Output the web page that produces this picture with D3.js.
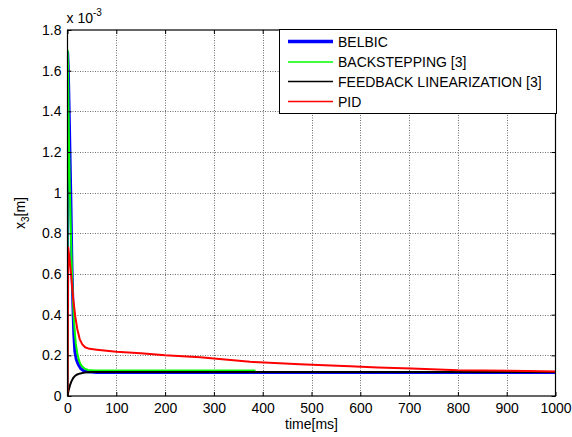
<!DOCTYPE html>
<html>
<head>
<meta charset="utf-8">
<script src="https://cdn.jsdelivr.net/npm/d3@7"></script>
<style>
  body { margin: 0; background: #fff; }
  text { font-family: Arial, "Liberation Sans", sans-serif; fill: #000; }
</style>
</head>
<body>
<svg id="chart" width="572" height="437"></svg>
<script>
// Response of x3 (in units of 1e-3 m) versus time in ms, per controller
const seriesNames = ["BELBIC", "BACKSTEPPING [3]", "FEEDBACK LINEARIZATION [3]", "PID"];
const seriesColors = ["#0000ff", "#00ff00", "#000000", "#ff0000"];

const belbic = [[0,0],[0.3,1.69],[1.5,1.62],[3,1.45],[5,1.2],[7,0.95],[9,0.65],[11,0.45],[13,0.3],[15,0.22],[18,0.18],[22,0.155],[27,0.135],[33,0.124],[42,0.119],[60,0.116],[1000,0.116]];
const backstepping = [[0,0],[0.3,1.7],[1,1.62],[2,1.42],[3,1.25],[5,1.0],[7,0.8],[9,0.62],[11,0.48],[13,0.38],[15,0.31],[17,0.26],[20,0.21],[23,0.18],[26,0.16],[30,0.145],[35,0.135],[42,0.128],[55,0.125],[385,0.125]];
const feedbackLin = [[0,0],[2,0.025],[5,0.052],[8,0.072],[12,0.09],[16,0.1],[20,0.106],[26,0.111],[35,0.115],[50,0.118],[1000,0.118]];
const pid = [[0,0],[1.5,0.73],[4,0.68],[8,0.58],[12,0.47],[16,0.39],[20,0.33],[25,0.28],[30,0.255],[36,0.24],[45,0.232],[60,0.228],[100,0.218],[150,0.21],[200,0.2],[272,0.19],[300,0.184],[374,0.168],[476,0.156],[579,0.146],[636,0.14],[705,0.135],[800,0.127],[944,0.123],[1000,0.121]];

const timeTicks = [0,100,200,300,400,500,600,700,800,900,1000];
const valueTicks = [0,0.2,0.4,0.6,0.8,1,1.2,1.4,1.6,1.8];

const svg = d3.select("#chart");
const plotL = 67.5, plotR = 555.5, plotT = 30, plotB = 396;

const x = d3.scaleLinear().domain([0, 1000]).range([plotL, plotR]);
const y = d3.scaleLinear().domain([0, 1.8]).range([plotB, plotT]);

svg.append("rect").attr("x", plotL).attr("y", plotT)
  .attr("width", plotR - plotL).attr("height", plotB - plotT).attr("fill", "#fff");

svg.append("clipPath").attr("id", "plotClip").append("rect")
  .attr("x", plotL).attr("y", plotT - 2).attr("width", plotR - plotL).attr("height", plotB - plotT + 2);

// dotted grid
const grid = svg.append("g").attr("stroke", "#6f6f6f").attr("stroke-width", 1).attr("stroke-dasharray", "1,1.5");
grid.selectAll(".gx").data(timeTicks.slice(1, -1)).join("line")
  .attr("x1", d => Math.round(x(d)) + 0.5).attr("x2", d => Math.round(x(d)) + 0.5)
  .attr("y1", plotT).attr("y2", plotB);
grid.selectAll(".gy").data(valueTicks.slice(1, -1)).join("line")
  .attr("y1", d => Math.round(y(d)) + 0.5).attr("y2", d => Math.round(y(d)) + 0.5)
  .attr("x1", plotL).attr("x2", plotR);

// curves
const line = d3.line().x(d => x(d[0])).y(d => y(d[1]));
const curves = [
  { data: belbic, color: seriesColors[0], width: 3 },
  { data: backstepping, color: seriesColors[1], width: 2 },
  { data: feedbackLin, color: seriesColors[2], width: 2 },
  { data: pid, color: seriesColors[3], width: 2 }
];
svg.append("g").attr("clip-path", "url(#plotClip)")
  .selectAll("path").data(curves).join("path")
  .attr("d", d => line(d.data))
  .attr("fill", "none")
  .attr("stroke", d => d.color)
  .attr("stroke-width", d => d.width)
  .attr("stroke-linejoin", "round");

// axes with inward ticks on all four sides
const fmtY = d => String(+d.toFixed(1));
const styleAxis = g => {
  g.attr("font-size", 14).attr("font-family", "Arial, 'Liberation Sans', sans-serif");
  g.select(".domain").remove();
  g.selectAll(".tick line").attr("stroke", "#000");
  g.selectAll(".tick text").attr("fill", "#000");
};
svg.append("g").attr("transform", `translate(0,${plotB})`)
  .call(d3.axisBottom(x).tickValues(timeTicks).tickSize(-4).tickPadding(7).tickFormat(d3.format("d")))
  .call(styleAxis);
svg.append("g").attr("transform", `translate(0,${plotT})`)
  .call(d3.axisTop(x).tickValues(timeTicks).tickSize(-4).tickFormat(""))
  .call(styleAxis);
svg.append("g").attr("transform", `translate(${plotL},0)`)
  .call(d3.axisLeft(y).tickValues(valueTicks).tickSize(-4).tickPadding(6).tickFormat(fmtY))
  .call(styleAxis);
svg.append("g").attr("transform", `translate(${plotR},0)`)
  .call(d3.axisRight(y).tickValues(valueTicks).tickSize(-4).tickFormat(""))
  .call(styleAxis);

svg.append("rect").attr("x", plotL).attr("y", plotT)
  .attr("width", plotR - plotL).attr("height", plotB - plotT)
  .attr("fill", "none").attr("stroke", "#000").attr("stroke-width", 1.2);

// exponent label
const expo = svg.append("text").attr("x", plotL - 1).attr("y", 23).attr("font-size", 14);
expo.append("tspan").text("x 10");
expo.append("tspan").attr("dy", -7).attr("font-size", 10).text("-3");

// axis titles
svg.append("text").attr("x", (plotL + plotR) / 2).attr("y", 429)
  .attr("text-anchor", "middle").attr("font-size", 14).text("time[ms]");
const yl = svg.append("text").attr("transform", `translate(25,${(plotT + plotB) / 2}) rotate(-90)`)
  .attr("text-anchor", "middle").attr("font-size", 14);
yl.append("tspan").text("x");
yl.append("tspan").attr("dy", 4).attr("font-size", 10).text("3");
yl.append("tspan").attr("dy", -4).text("[m]");

// legend
const lg = svg.append("g");
lg.append("rect").attr("x", 279.5).attr("y", 29.5).attr("width", 277).attr("height", 84)
  .attr("fill", "#fff").attr("stroke", "#000").attr("stroke-width", 1);
const rowY = [41.5, 62, 81.5, 101.5];
const rows = lg.selectAll(".row").data(seriesNames).join("g")
  .attr("transform", (d, i) => `translate(0,${rowY[i]})`);
rows.append("line").attr("x1", 288).attr("x2", 333).attr("y1", 0).attr("y2", 0)
  .attr("stroke", (d, i) => seriesColors[i]).attr("stroke-width", (d, i) => i === 0 ? 3.5 : 1.6);
rows.append("text").attr("x", 338).attr("y", 5).attr("font-size", 14).text(d => d);
</script>
</body>
</html>
